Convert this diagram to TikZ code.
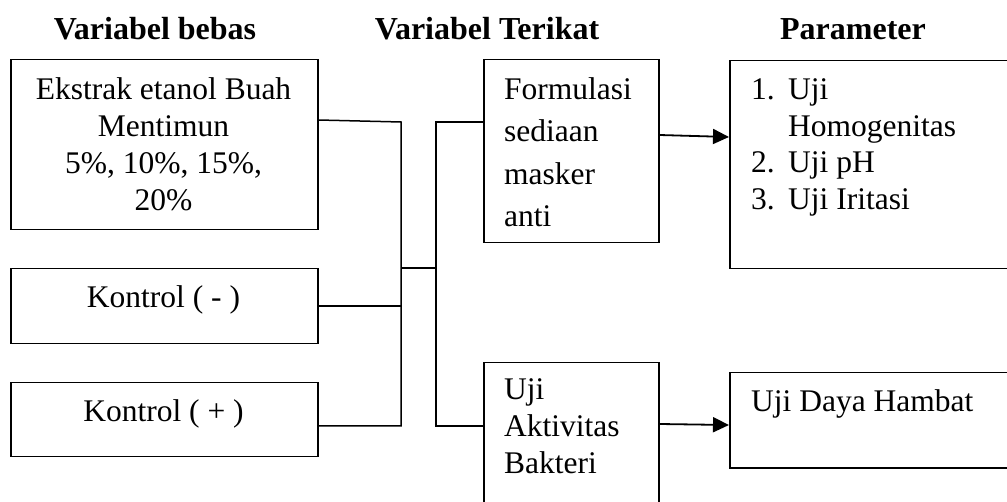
\documentclass[tikz,border=0pt]{standalone}
\usepackage{fontspec}
\setmainfont{Liberation Serif}
\usetikzlibrary{arrows.meta}
\tikzset{
  box/.style={draw, line width=1.5pt, rectangle, inner sep=0pt, anchor=north west},
  head/.style={font=\fontsize{32}{37}\selectfont\bfseries, anchor=base, inner sep=0pt},
  ctext/.style={font=\fontsize{31.5}{37}\selectfont, anchor=base, inner sep=0pt},
  ltext/.style={font=\fontsize{31.5}{37}\selectfont, anchor=base west, inner sep=0pt},
  conn/.style={line width=1.5pt},
  arr/.style={line width=1.8pt, -{Triangle[length=16pt,width=15pt]}}
}
\begin{document}
\begin{tikzpicture}[x=1pt,y=-1pt]
\useasboundingbox[fill=white] (0,0) rectangle (1007,502);
% headers
\node[head] (h1) at (155,40) {Variabel bebas};
\node[head] (h2) at (487,40) {Variabel Terikat};
\node[head] (h3) at (853,40) {Parameter};
% boxes
\node[box, minimum width=307pt, minimum height=170pt] (A) at (10,59) {};
\node[box, minimum width=307pt, minimum height=75pt] (Km) at (10,268) {};
\node[box, minimum width=307pt, minimum height=74pt] (Kp) at (10,382) {};
\node[box, minimum width=175pt, minimum height=183pt] (F) at (483,59) {};
\node[box, minimum width=175pt, minimum height=150pt] (U) at (483,362) {};
\node[box, minimum width=285pt, minimum height=208pt] (P) at (729,60) {};
\node[box, minimum width=285pt, minimum height=95pt] (D) at (729,372) {};
% texts
\node[ctext] (a1) at (163.5,100) {Ekstrak etanol Buah};
\node[ctext] (a2) at (163.5,137) {Mentimun};
\node[ctext] (a3) at (163.5,174) {5\%, 10\%, 15\%,};
\node[ctext] (a4) at (163.5,211) {20\%};
\node[ctext] (km) at (163.5,308) {Kontrol ( - )};
\node[ctext] (kp) at (163.5,422) {Kontrol ( + )};
\node[ltext] (f1) at (504,100) {Formulasi};
\node[ltext] (f2) at (504,142) {sediaan};
\node[ltext] (f3) at (504,185) {masker};
\node[ltext] (f4) at (504,227) {anti};
\node[ltext] (u1) at (504,400) {Uji};
\node[ltext] (u2) at (504,437) {Aktivitas};
\node[ltext] (u3) at (504,474) {Bakteri};
\node[ltext] (p1n) at (751,100) {1.};
\node[ltext] (p1) at (788,100) {Uji};
\node[ltext] (p1b) at (788,137) {Homogenitas};
\node[ltext] (p2n) at (751,173) {2.};
\node[ltext] (p2) at (788,173) {Uji pH};
\node[ltext] (p3n) at (751,210) {3.};
\node[ltext] (p3) at (788,210) {Uji Iritasi};
\node[ltext] (d1) at (751,412) {Uji Daya Hambat};
% junction coordinates
\coordinate (ae) at ([yshift=-61pt]A.north east);
\coordinate (kpe) at ([yshift=-44pt]Kp.north east);
\coordinate (b1t) at (401,122);
\coordinate (b1m) at (401,268);
\coordinate (b1b) at (401,426);
\coordinate (b2t) at (436,122);
\coordinate (b2m) at (436,268);
\coordinate (b2b) at (436,426);
\coordinate (fw) at ([yshift=-63pt]F.north west);
\coordinate (uw) at ([yshift=-64pt]U.north west);
% connectors
\draw[conn] (ae) -- (b1t) -- (b1b) -- (kpe);
\draw[conn] (Km.east) -- (Km.east -| b1m);
\draw[conn] (b1m) -- (b2m);
\draw[conn] (fw) -- (b2t) -- (b2b) -- (uw);
\draw[arr] ([yshift=-76pt]F.north east) -- ([yshift=-77pt]P.north west);
\draw[arr] ([yshift=-62pt]U.north east) -- ([yshift=-53pt]D.north west);
\end{tikzpicture}
\end{document}
